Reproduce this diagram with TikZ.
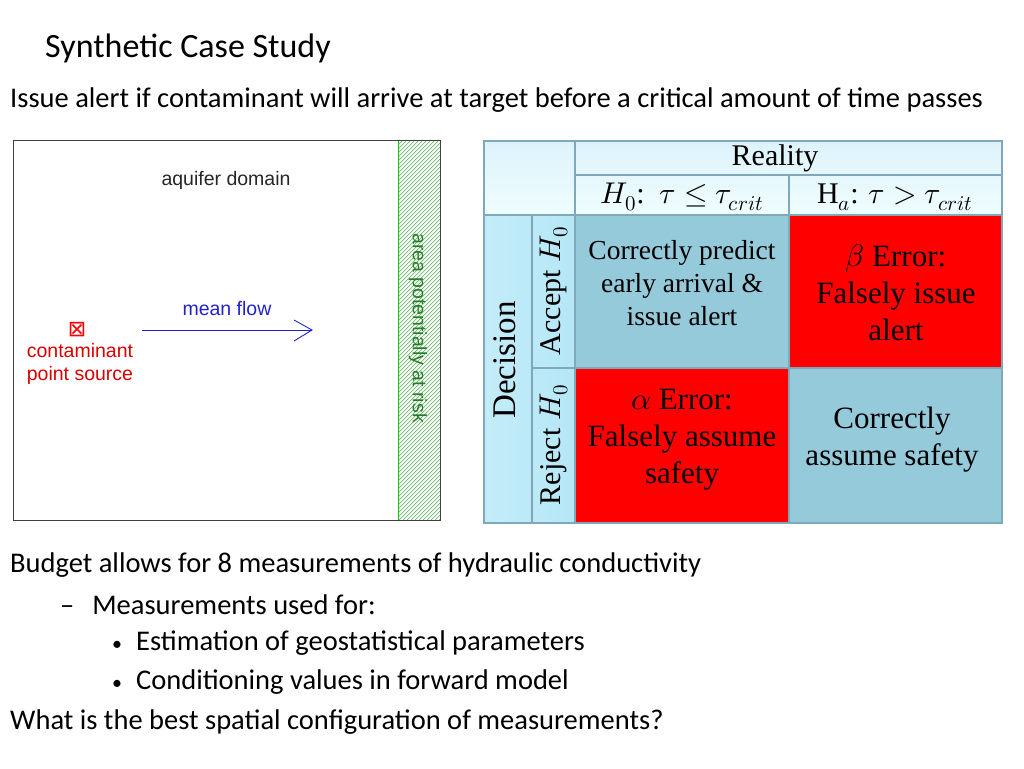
\documentclass[tikz,border=0pt]{standalone}
\usepackage{fontspec}
\usepackage{unicode-math}
\setmainfont{Carlito}
\newfontfamily\arialf{Liberation Sans}
\newfontfamily\timesf{Liberation Serif}
\newfontfamily\djv{DejaVu Sans}
\setmathfont{Latin Modern Math}
\definecolor{hdr}{HTML}{DDF3FB}
\definecolor{side}{HTML}{B5E7F7}
\definecolor{cblue}{HTML}{95CADB}
\definecolor{cred}{HTML}{FF0000}
\definecolor{grid}{HTML}{7FA8BA}
\definecolor{hgreen}{HTML}{2E9E2E}
\definecolor{mflow}{HTML}{2222CC}
\tikzset{
  txt/.style={anchor=west,inner sep=0,font=\fontsize{28.5}{32}\selectfont},
  cell/.style={draw=grid,line width=1.2pt},
  ttext/.style={font=\timesf\fontsize{30}{36}\selectfont,align=center,inner sep=0},
  afont/.style={font=\arialf\fontsize{19.5}{23}\selectfont,inner sep=0}
}
\begin{document}
\begin{tikzpicture}[x=1pt,y=-1pt]
\useasboundingbox (0,0) rectangle (1024,768);
\node[txt,font=\fontsize{34}{38}\selectfont] (title) at (45,48) {Synthetic Case Study};
\node[txt] (sub) at (10,100) {Issue alert if contaminant will arrive at target before a critical amount of time passes};
% left figure
\begin{scope}
\clip (398,141) rectangle (440,520);
\foreach \i in {0,4,...,440} {\draw[hgreen!70,line width=0.7pt] (398,141+\i) -- (440,141+\i-42);}
\end{scope}
\draw[green!80!black,line width=1pt] (398,141) -- (398,520);
\draw[line width=1pt,draw=black!75] (13,140) rectangle (440,520);
\node[afont,text=black!85] (aq) at (226,180) {aquifer domain};
\node[afont,text=mflow] (mf) at (227,309) {mean flow};
\coordinate (fa) at (142,330);
\coordinate (fb) at (312,330);
\draw[mflow,line width=0.9pt] (fa) -- (fb);
\draw[mflow,line width=0.9pt] (294,320) -- (fb) -- (294,341);
\node[font=\djv\fontsize{22}{22}\selectfont,text=red,inner sep=0] (src) at (77,330) {⊠};
\node[afont,text=red!85!black,align=center,font=\arialf\fontsize{19.5}{23}\selectfont] (cps) at (80,364) {contaminant\\point source};
\node[afont,text=hgreen!80!black,rotate=-90] (risk) at (418,328) {area potentially at risk};
% table
\shade[top color=hdr,bottom color=hdr!80!cyan!20] (484,141) rectangle (1002,215);
\shade[left color=side!80!white,right color=side] (484,215) rectangle (575,523);
\fill[cblue] (575,215) rectangle (789,368);
\fill[cred] (789,215) rectangle (1002,368);
\fill[cred] (575,368) rectangle (789,523);
\fill[cblue] (789,368) rectangle (1002,523);
\draw[cell] (484,141) rectangle (1002,523);
\draw[cell] (575,141) -- (575,523);
\draw[cell] (575,175) -- (1002,175);
\draw[cell] (484,215) -- (1002,215);
\draw[cell] (789,175) -- (789,523);
\draw[cell] (532,215) -- (532,523);
\draw[cell] (532,368) -- (1002,368);
\node[ttext] (real) at (775,158) {Reality};
\node[ttext] (h0) at (682,197) {$H_0$:\, $\tau\le\tau_{crit}$};
\node[ttext] (ha) at (895,197) {H$_a$: $\tau>\tau_{crit}$};
\node[ttext,rotate=90,font=\timesf\fontsize{33}{36}\selectfont] (dec) at (505,360) {Decision};
\node[ttext,rotate=90] (acc) at (554,291) {Accept $H_0$};
\node[ttext,rotate=90] (rej) at (554,445) {Reject $H_0$};
\node[ttext,font=\timesf\fontsize{27.5}{33}\selectfont] (c11) at (682,283) {Correctly predict\\early arrival \&\\issue alert};
\node[ttext,font=\timesf\fontsize{31}{37}\selectfont] (c12) at (896,293) {$\beta$ Error:\\Falsely issue\\alert};
\node[ttext,font=\timesf\fontsize{31}{37}\selectfont] (c21) at (682,440) {$\alpha$ Error:\\Falsely assume\\safety};
\node[ttext,font=\timesf\fontsize{31}{37}\selectfont] (c22) at (892,440) {Correctly\\assume safety};
% bottom text
\node[txt] (b1) at (10,565) {Budget allows for 8 measurements of hydraulic conductivity};
\node[txt] (b2) at (60,605) {–\hspace{18pt}Measurements used for:};
\node[txt] (b3) at (112,643) {\fontsize{20}{20}\selectfont•\hspace{14pt}\fontsize{28.5}{32}\selectfont Estimation of geostatistical parameters};
\node[txt] (b4) at (112,682) {\fontsize{20}{20}\selectfont•\hspace{14pt}\fontsize{28.5}{32}\selectfont Conditioning values in forward model};
\node[txt] (b5) at (10,722) {What is the best spatial configuration of measurements?};
\end{tikzpicture}
\end{document}
